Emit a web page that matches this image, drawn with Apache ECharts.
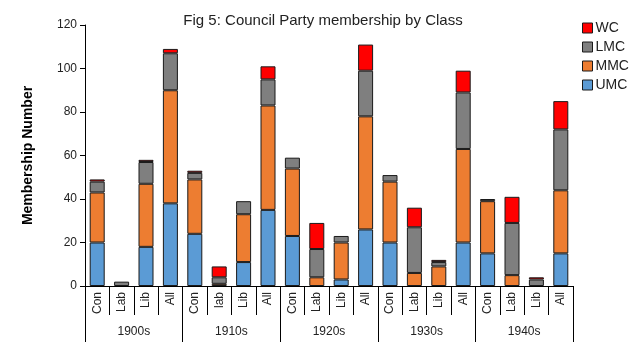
<!DOCTYPE html>
<html>
<head>
<meta charset="utf-8">
<script src="https://cdn.jsdelivr.net/npm/echarts@6/dist/echarts.min.js"></script>
<style>html,body{margin:0;padding:0;background:#fff}#c{width:640px;height:359px}</style>
</head>
<body>
<div id="c"></div>
<script>
const categories = ['Con','Lab','Lib','All','Con','lab','Lib','All','Con','Lab','Lib','All','Con','Lab','Lib','All','Con','Lab','Lib','All'];
const decades = ['1900s','1910s','1920s','1930s','1940s'];
const UMC = [20,0,18,38, 24,0,11,35, 23,0,3,26, 20,0,0,20, 15,0,0,15];
const MMC = [23,0,29,52, 25,1,22,48, 31,4,17,52, 28,6,9,43, 24,5,0,29];
const LMC = [5,2,10,17, 3,3,6,12, 5,13,3,21, 3,21,2,26, 1,24,3,28];
const WC  = [1,0,1,2, 1,5,0,6, 0,12,0,12, 0,9,1,10, 0,12,1,13];
const yTicks = {min:0, max:120, interval:20};

const clean = a => a.map(v => v === 0 ? null : v);
const font = 'Liberation Sans, Arial, sans-serif';
function s(name, data, color){
  return {name, type:'bar', stack:'t', data:clean(data), barWidth:15,
    itemStyle:{color, borderColor:'#1a1a1a', borderWidth:1}};
}
const chart = echarts.init(document.getElementById('c'));
chart.setOption({
  animation:false,
  textStyle:{fontFamily:font},
  title:{text:'Fig 5: Council Party membership by Class', left:318, textAlign:'center', top:8,
    textStyle:{fontSize:15, fontWeight:'normal', color:'#222', fontFamily:font}},
  legend:{data:['WC','LMC','MMC','UMC'], orient:'vertical', left:577, top:16, itemWidth:10, itemHeight:10, itemGap:5,
    icon:'rect', textStyle:{fontSize:14, color:'#222', fontFamily:font, padding:[0,0,0,-2]}, itemStyle:{borderColor:'#1a1a1a', borderWidth:1}},
  grid:{left:85, right:67, top:25, bottom:73},
  xAxis:[
    {type:'category', data:categories, position:'bottom',
     axisLine:{lineStyle:{color:'#000'}},
     axisTick:{show:true, interval:0, length:29, lineStyle:{color:'#000'}},
     axisLabel:{interval:0, rotate:90, margin:6, fontSize:12, color:'#222', fontFamily:font}},
    {type:'category', data:decades, position:'bottom', offset:0,
     axisLine:{show:false},
     axisTick:{show:true, interval:0, length:56, lineStyle:{color:'#000'}},
     axisLabel:{interval:0, margin:40, fontSize:12, color:'#222', fontFamily:font}}
  ],
  yAxis:{type:'value', min:yTicks.min, max:yTicks.max, interval:yTicks.interval,
    name:'Membership Number', nameLocation:'middle', nameGap:50,
    nameTextStyle:{fontSize:14, fontWeight:'bold', color:'#000', fontFamily:font},
    axisLine:{show:true, lineStyle:{color:'#000'}},
    axisTick:{show:true, length:5, lineStyle:{color:'#000'}},
    splitLine:{show:false},
    axisLabel:{fontSize:12, color:'#222', margin:8, fontFamily:font}},
  series:[
    s('UMC', UMC, '#5b9bd5'),
    s('MMC', MMC, '#ed7d31'),
    s('LMC', LMC, '#7f7f7f'),
    s('WC', WC, '#ff0000')
  ]
});
</script>
</body>
</html>
